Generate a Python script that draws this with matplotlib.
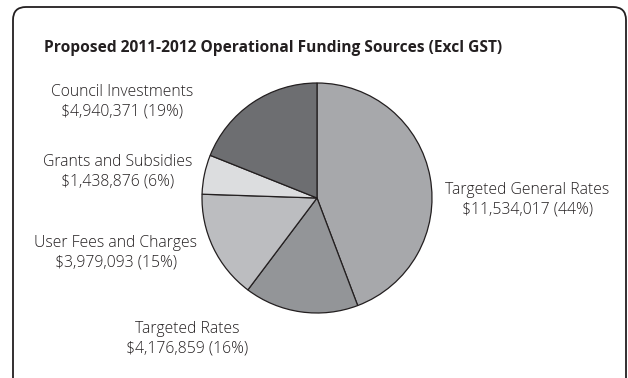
import matplotlib
matplotlib.use("Agg")
import matplotlib.pyplot as plt
from matplotlib.patches import FancyBboxPatch

# Funding sources, clockwise from 12 o'clock
sources = [
    "Targeted General Rates",
    "Targeted Rates",
    "User Fees and Charges",
    "Grants and Subsidies",
    "Council Investments",
]
amounts = [11534017, 4176859, 3979093, 1438876, 4940371]
percents = [44, 16, 15, 6, 19]
colors = ["#a7a8ab", "#939598", "#bcbdc0", "#dcdddf", "#6d6e71"]

# label anchor points (pixel space, y measured from the bottom)
label_xy = [(527, 178), (187, 39), (116, 125), (118, 206), (122, 276)]

W, H = 628, 378
fig = plt.figure(figsize=(W / 100, H / 100), dpi=100)
ax = fig.add_axes([0, 0, 1, 1])

ax.pie(amounts, colors=colors, startangle=90, counterclock=False,
       center=(317, 180), radius=115,
       wedgeprops=dict(edgecolor="#231f20", linewidth=0.9))

ax.set_xlim(0, W)
ax.set_ylim(0, H)
ax.set_aspect("equal")
ax.axis("off")

# rounded frame around the chart
frame = FancyBboxPatch((13, -40), 613, 411,
                       boxstyle="round,pad=0,rounding_size=13",
                       facecolor="none", edgecolor="#231f20", linewidth=1.3,
                       clip_on=False)
ax.add_patch(frame)

ax.text(273.5, 330, "Proposed 2011-2012 Operational Funding Sources (Excl GST)",
        ha="center", va="center", fontsize=11.2, fontweight="bold",
        family="Open Sans", color="#231f20")

for name, amt, pct, (x, y) in zip(sources, amounts, percents, label_xy):
    ax.text(x, y, f"{name}\n${amt:,} ({pct}%)", ha="center", va="center",
            fontsize=11.3, family="Open Sans", fontweight="light",
            color="#231f20", linespacing=1.3)

fig.savefig("out.png", dpi=100)
